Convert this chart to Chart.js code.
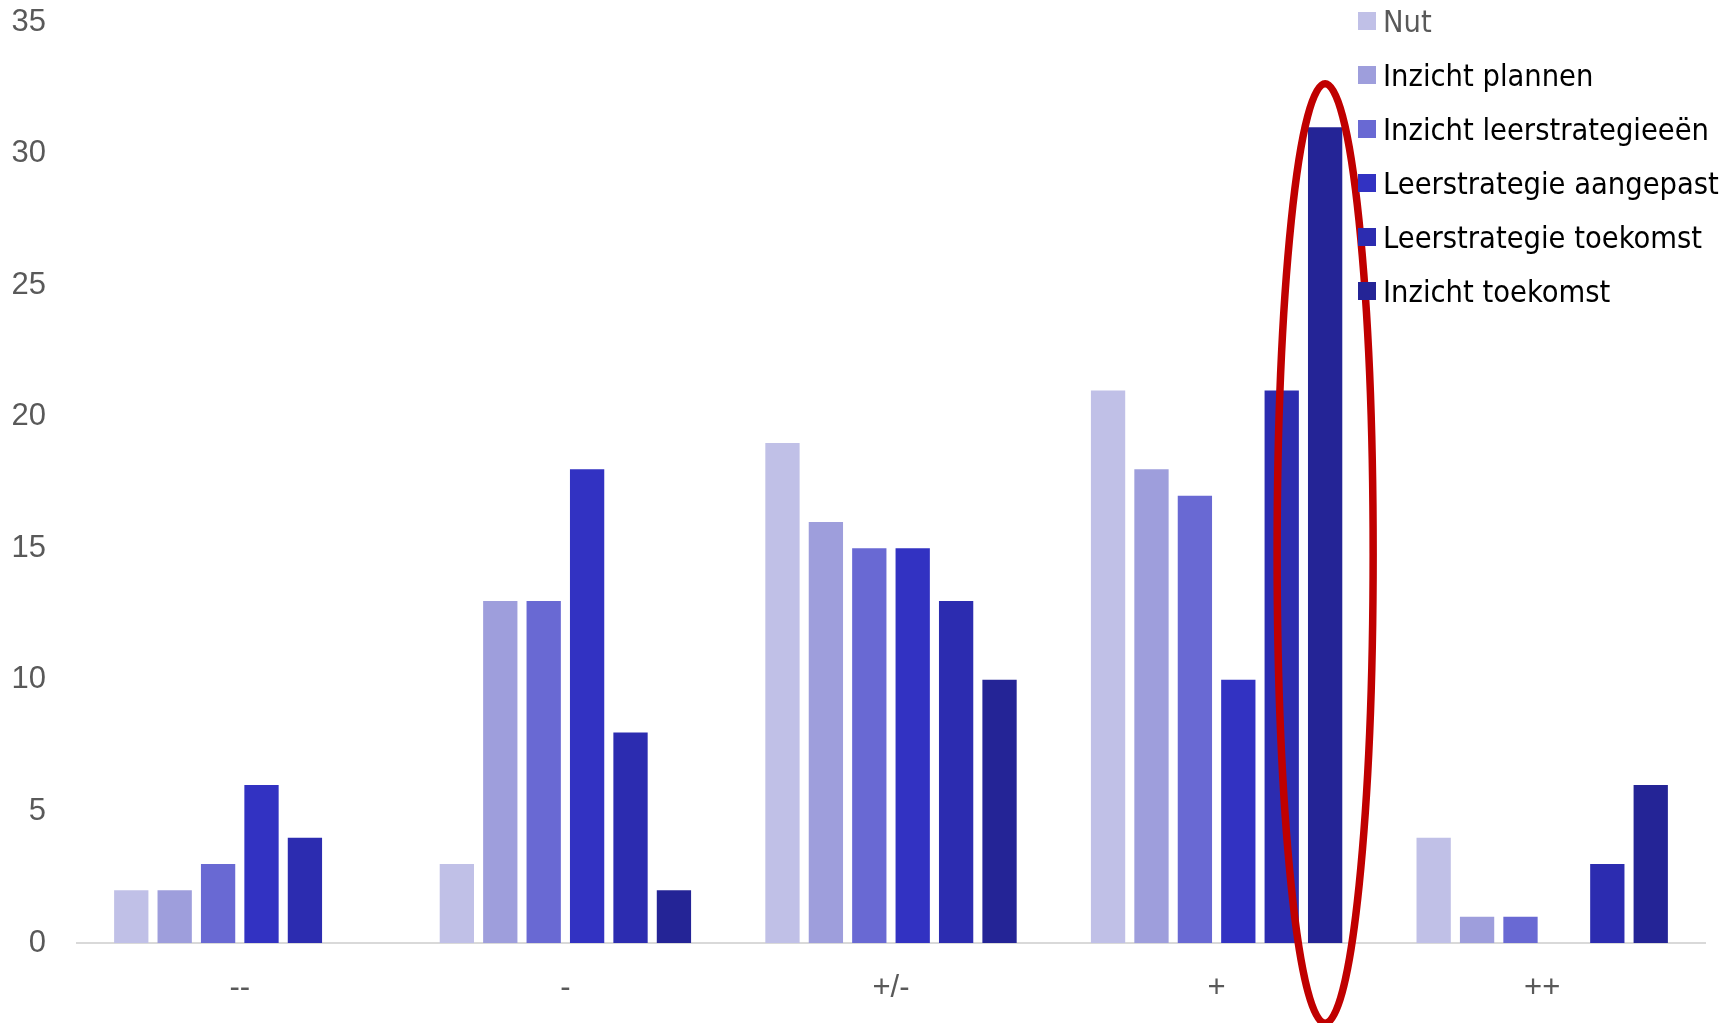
<!DOCTYPE html>
<html>
<head>
<meta charset="utf-8">
<script src="https://cdn.jsdelivr.net/npm/chart.js@4.4.1/dist/chart.umd.min.js"></script>
<style>
	html, body { margin: 0; padding: 0; background: #fff; }
	#wrap { position: relative; width: 1733px; height: 1023px; }
	#legend { position: absolute; left: 1358px; top: 0; font-family: "DejaVu Sans Condensed", "DejaVu Sans", sans-serif; font-stretch: condensed; font-size: 30.5px; }
	.item { position: absolute; left: 0; height: 36px; display: flex; align-items: center; white-space: nowrap; }
	.box { width: 18px; height: 18px; margin-right: 7px; flex: none; }
</style>
</head>
<body>
<div id="wrap">
	<canvas id="myChart"></canvas>
	<div id="legend"></div>
</div>
<script>
	const categories = ['--', '-', '+/-', '+', '++'];
	const seriesNames = ['Nut', 'Inzicht plannen', 'Inzicht leerstrategieeën', 'Leerstrategie aangepast', 'Leerstrategie toekomst', 'Inzicht toekomst'];
	const nut = [2, 3, 19, 21, 4];
	const inzichtPlannen = [2, 13, 16, 18, 1];
	const inzichtLeerstrategieen = [3, 13, 15, 17, 1];
	const leerstrategieAangepast = [6, 18, 15, 10, 0];
	const leerstrategieToekomst = [4, 8, 13, 21, 3];
	const inzichtToekomst = [0, 2, 10, 31, 6];
	const yMax = 35;
	const yStep = 5;

	const seriesValues = [nut, inzichtPlannen, inzichtLeerstrategieen, leerstrategieAangepast, leerstrategieToekomst, inzichtToekomst];
	const seriesColors = ['#C0C0E7', '#9E9EDC', '#6969D3', '#3232C2', '#2C2CB0', '#242496'];
	const legendTextColors = ['#595959', '#000', '#000', '#000', '#000', '#000'];

	// rode ellips rond "Inzicht toekomst" bij "+"
	const ellipsePlugin = {
		id: 'ellipse',
		afterDraw(chart) {
			const bar = chart.getDatasetMeta(5).data[3];
			const y = chart.scales.y;
			const ctx = chart.ctx;
			ctx.save();
			ctx.beginPath();
			ctx.ellipse(bar.x, y.getPixelForValue(14.8), bar.width * 1.4, y.getPixelForValue(0) - y.getPixelForValue(17.85), 0, 0, 2 * Math.PI);
			ctx.strokeStyle = '#C00000';
			ctx.lineWidth = 7.5;
			ctx.stroke();
			ctx.restore();
		}
	};

	const ctx1 = document.getElementById('myChart');
	new Chart(ctx1, {
		type: 'bar',
		data: {
			labels: categories,
			datasets: seriesNames.map((name, i) => ({
				label: name,
				data: seriesValues[i],
				backgroundColor: seriesColors[i],
				borderWidth: 0
			}))
		},
		options: {
			responsive: true,
			maintainAspectRatio: false,
			animation: false,
			barPercentage: 0.79,
			categoryPercentage: 0.8,
			layout: { padding: { top: 22, right: 28, left: 0, bottom: 0 } },
			scales: {
				x: {
					grid: { display: false, drawTicks: false },
					border: { display: true, color: '#D9D9D9', width: 2 },
					ticks: {
						color: '#595959',
						padding: 27,
						font: { size: 31, family: 'Liberation Sans' }
					},
					afterFit: s => { s.height = 80; }
				},
				y: {
					min: 0,
					max: yMax,
					grid: { display: false, drawTicks: false },
					border: { display: false },
					ticks: {
						stepSize: yStep,
						color: '#595959',
						padding: 31,
						font: { size: 31, family: 'Liberation Sans' }
					},
					afterFit: s => {
						s.width = 77;
						s.paddingTop = 0;
						s.paddingBottom = 0;
					}
				}
			},
			plugins: {
				legend: { display: false },
				tooltip: { enabled: false }
			}
		},
		plugins: [ellipsePlugin]
	});

	const legend = document.getElementById('legend');
	seriesNames.forEach((name, i) => {
		const item = document.createElement('div');
		item.className = 'item';
		item.style.top = (3 + i * 54) + 'px';
		item.innerHTML = '<span class="box" style="background:' + seriesColors[i] + '"></span><span style="color:' + legendTextColors[i] + '">' + name + '</span>';
		legend.appendChild(item);
	});
</script>
</body>
</html>
